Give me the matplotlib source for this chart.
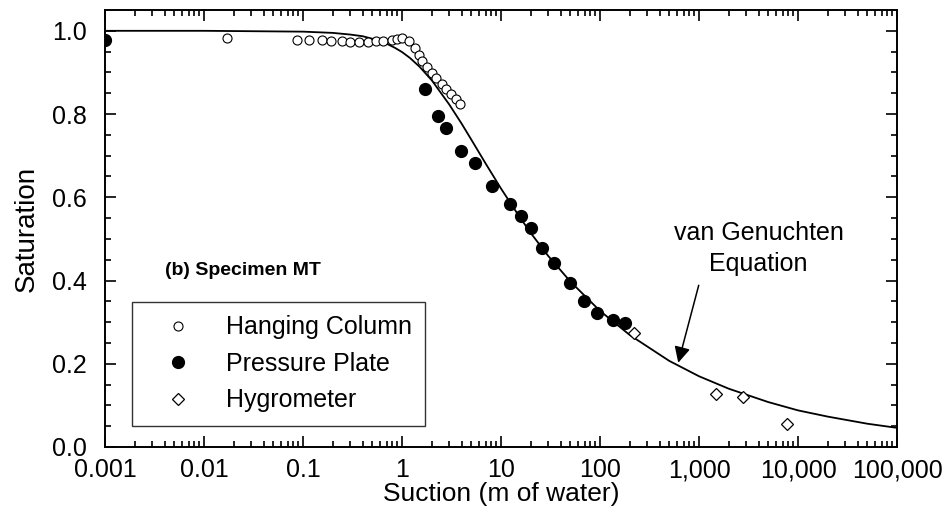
import matplotlib
matplotlib.use('Agg')
import matplotlib.pyplot as plt
from matplotlib.ticker import FixedLocator, LogLocator, NullFormatter

plt.rcParams['font.family'] = ['Liberation Sans', 'DejaVu Sans']

# ----------------------------
# Data
# ----------------------------
# Hanging column (suction m, saturation)
hang_suction = [0.017, 0.086, 0.116, 0.154, 0.194, 0.245, 0.295, 0.372, 0.449, 0.552,
                0.650, 0.784, 0.90, 1.0, 1.19, 1.34, 1.47, 1.61, 1.77, 1.99,
                2.23, 2.51, 2.81, 3.16, 3.55, 3.81]
hang_sat = [0.982, 0.977, 0.977, 0.977, 0.975, 0.975, 0.972, 0.972, 0.972, 0.975,
            0.975, 0.977, 0.980, 0.982, 0.975, 0.958, 0.941, 0.927, 0.912, 0.898,
            0.886, 0.872, 0.860, 0.848, 0.835, 0.824]

# Pressure plate
plate_suction = [0.001, 1.69, 2.29, 2.81, 3.99, 5.40, 8.2, 12.2, 16.1, 20.3,
                 26.2, 34.7, 49.2, 69.7, 92.2, 134, 177]
plate_sat = [0.977, 0.860, 0.795, 0.766, 0.711, 0.683, 0.628, 0.585, 0.556, 0.527,
             0.479, 0.441, 0.395, 0.352, 0.323, 0.304, 0.297]

# Hygrometer
hygro_suction = [223, 1500, 2810, 7830]
hygro_sat = [0.273, 0.127, 0.120, 0.055]

# van Genuchten curve
vg_suction = [0.001, 0.01, 0.1, 0.2, 0.3, 0.4, 0.5, 0.6, 0.7, 0.85, 1, 1.2, 1.5, 2,
              3, 4, 5, 7, 10, 15, 20, 30, 50, 100, 200, 500, 1000, 2000, 5000,
              10000, 20000, 50000, 100000]
vg_sat = [1.0, 1.0, 0.998, 0.995, 0.991, 0.987, 0.981, 0.975, 0.969, 0.959, 0.949,
          0.935, 0.914, 0.881, 0.823, 0.777, 0.739, 0.681, 0.621, 0.557, 0.514,
          0.459, 0.398, 0.327, 0.269, 0.207, 0.170, 0.140, 0.108, 0.088, 0.073,
          0.056, 0.046]

x_ticks = [0.001, 0.01, 0.1, 1, 10, 100, 1000, 10000, 100000]
x_labels = ['0.001', '0.01', '0.1', '1', '10', '100', '1,000', '10,000', '100,000']
y_ticks = [0.0, 0.2, 0.4, 0.6, 0.8, 1.0]
y_labels = ['0.0', '0.2', '0.4', '0.6', '0.8', '1.0']

# ----------------------------
# Plot
# ----------------------------
fig = plt.figure(figsize=(9.49, 5.16), dpi=100)
ax = fig.add_axes([105 / 949, 1 - 447 / 516, 792 / 949, 437 / 516])

ax.plot(vg_suction, vg_sat, color='black', lw=1.3, zorder=2)
ax.plot(hang_suction, hang_sat, linestyle='none', marker='o', ms=6.5,
        mfc='white', mec='black', mew=0.8, label='Hanging Column', zorder=3)
ax.plot(plate_suction, plate_sat, linestyle='none', marker='o', ms=8.5,
        color='black', label='Pressure Plate', zorder=4)
ax.plot(hygro_suction, hygro_sat, linestyle='none', marker='D', ms=6,
        mfc='white', mec='black', mew=0.9, label='Hygrometer', zorder=3)

ax.set_xscale('log')
ax.set_xlim(1e-3, 1e5)
ax.set_ylim(0, 1.05)

ax.xaxis.set_major_locator(FixedLocator(x_ticks))
ax.set_xticklabels(x_labels)
ax.xaxis.set_minor_locator(LogLocator(base=10, subs=range(2, 10), numticks=20))
ax.xaxis.set_minor_formatter(NullFormatter())
ax.set_yticks(y_ticks)
ax.set_yticklabels(y_labels)
ax.set_yticks([i * 0.05 for i in range(21)], minor=True)

ax.tick_params(which='both', direction='in', top=True, right=True, labelsize=18,
               width=1.2)
ax.tick_params(axis='x', which='major', pad=8)
ax.tick_params(axis='y', which='major', pad=13)
ax.tick_params(which='major', length=8)
ax.tick_params(which='minor', length=4)
for s in ax.spines.values():
    s.set_linewidth(1.4)

ax.set_xlabel('Suction (m of water)', fontsize=19, labelpad=0)
ax.set_ylabel('Saturation', fontsize=20, labelpad=9)

ax.text(0.004, 0.424, '(b) Specimen MT', fontsize=14, fontweight='bold',
        ha='left', va='center')

ax.text(4000, 0.477, 'van Genuchten\nEquation', fontsize=18, ha='center',
        va='center', linespacing=1.35)
ax.annotate('', xy=(607, 0.196), xytext=(1010, 0.395),
            arrowprops=dict(arrowstyle='-|>', color='black', lw=1.1,
                            mutation_scale=24))

leg = ax.legend(loc='lower left', bbox_to_anchor=(0.034, 0.048), borderaxespad=0,
                fontsize=18, frameon=True, fancybox=False, edgecolor='black',
                handlelength=2.6, handletextpad=0.6, borderpad=0.55,
                labelspacing=0.5, markerscale=1.0)
leg.get_frame().set_linewidth(1.0)

fig.savefig('out.png', dpi=100)
